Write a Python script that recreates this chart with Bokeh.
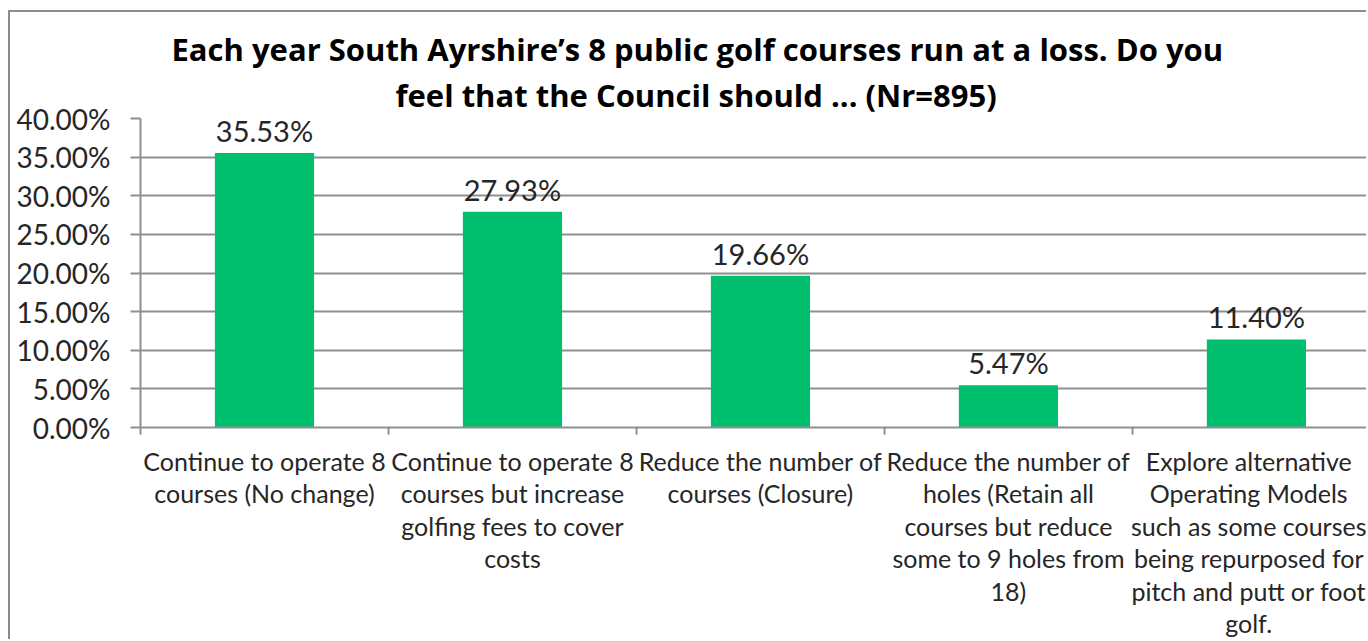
from bokeh.plotting import figure
from bokeh.models import Range1d, FixedTicker, PrintfTickFormatter, Title
from bokeh.core.properties import value
from bokeh.embed import file_html
from bokeh.resources import INLINE

categories = [
    "Continue to operate 8\ncourses (No change)",
    "Continue to operate 8\ncourses but increase\ngolfing fees to cover\ncosts",
    "Reduce the number of\ncourses (Closure)",
    "Reduce the number of\nholes (Retain all\ncourses but reduce\nsome to 9 holes from\n18)",
    "Explore alternative\nOperating Models\nsuch as some courses\nbeing repurposed for\npitch and putt or foot\ngolf.",
]
values = [35.53, 27.93, 19.66, 5.47, 11.40]
y_ticks = [0, 5, 10, 15, 20, 25, 30, 35, 40]
title_lines = [
    "Each year South Ayrshire\u2019s 8 public golf courses run at a loss. Do you",
    "feel that the Council should ... (Nr=895)",
]

FONT = "Lato"
TFONT = "Open Sans"
GREY = "#8f8f8f"
TEXT = "#262626"
GREEN = "#00BF6F"

n = len(categories)
centers = [i + 0.5 for i in range(n)]
bounds = [float(i) for i in range(n + 1)]
labels = ["%.2f%%" % v for v in values]

p = figure(
    width=1358, height=629,
    x_range=Range1d(0, 4.952), y_range=Range1d(0, 40),
    output_backend="svg", toolbar_location=None, title=None,
    min_border_left=130, min_border_top=106, min_border_bottom=210, min_border_right=0,
)
p.styles = {"margin-left": "8px", "margin-top": "10px",
            "border-left": "2px solid #8c8c8c", "border-top": "2px solid #8c8c8c"}
p.outline_line_color = None
p.background_fill_color = "white"
p.border_fill_color = "white"

p.vbar(x=centers, top=values, width=0.4, bottom=0, fill_color=GREEN, line_color=None)
p.text(x=centers, y=values, text=labels, text_align="center", text_baseline="bottom",
       y_offset=-5, text_font=value(FONT), text_font_size="29px", text_color=TEXT)

# y axis
p.yaxis.ticker = FixedTicker(ticks=y_ticks, minor_ticks=[])
p.yaxis.formatter = PrintfTickFormatter(format="%.2f%%")
p.yaxis.major_label_text_font = FONT
p.yaxis.major_label_text_font_size = "28px"
p.yaxis.major_label_text_color = TEXT
p.yaxis.major_tick_out = 10
p.yaxis.major_tick_in = 0
p.yaxis.major_tick_line_color = GREY
p.yaxis.major_tick_line_width = 2
p.yaxis.axis_line_color = GREY
p.yaxis.axis_line_width = 2
p.yaxis.major_label_standoff = 20

p.ygrid.grid_line_color = GREY
p.ygrid.grid_line_width = 2
p.xgrid.visible = False

# x axis
p.xaxis.ticker = FixedTicker(ticks=centers, minor_ticks=bounds)
p.xaxis.major_label_overrides = {c: lab for c, lab in zip(centers, categories)}
p.xaxis.major_tick_line_color = None
p.xaxis.major_tick_out = 0
p.xaxis.major_tick_in = 0
p.xaxis.minor_tick_out = 7
p.xaxis.minor_tick_in = 0
p.xaxis.minor_tick_line_color = GREY
p.xaxis.minor_tick_line_width = 2
p.xaxis.axis_line_color = GREY
p.xaxis.axis_line_width = 2
p.xaxis.major_label_text_font = FONT
p.xaxis.major_label_text_font_size = "25px"
p.xaxis.major_label_text_color = TEXT
p.xaxis.major_label_text_line_height = 1.084
p.xaxis.major_label_standoff = 11

t2 = Title(text=title_lines[1], align="left", offset=255, text_font=TFONT,
           text_font_size="31px", text_font_style="bold", text_color="black", standoff=5)
t1 = Title(text=title_lines[0], align="left", offset=31, text_font=TFONT,
           text_font_size="31px", text_font_style="bold", text_color="black", standoff=-1)
p.add_layout(t2, "above")
p.add_layout(t1, "above")

open("out.html", "w").write(file_html(p, INLINE))
